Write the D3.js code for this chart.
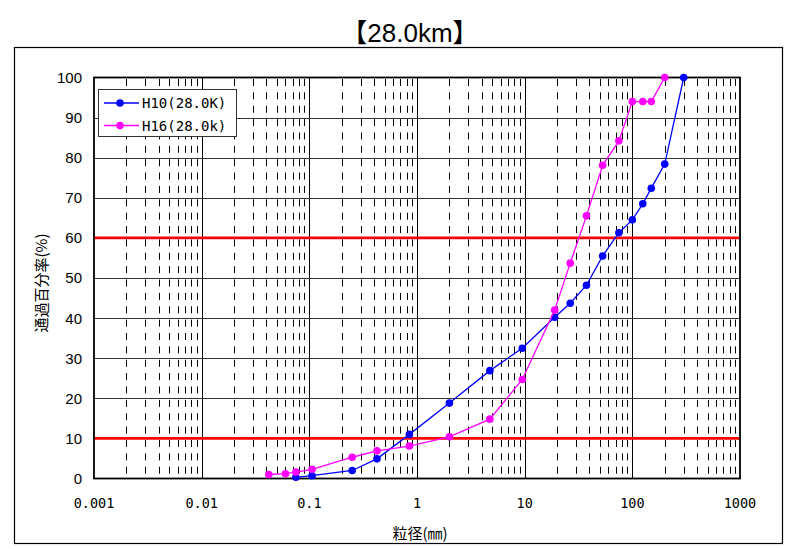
<!DOCTYPE html>
<html>
<head>
<meta charset="utf-8">
<script src="https://cdn.jsdelivr.net/npm/d3@7"></script>
<style>
  html, body { margin: 0; padding: 0; background: #fff; }
  svg { display: block; }
</style>
</head>
<body>
<svg id="chart" width="787" height="549"></svg>
<script>
// Grain size (mm) at each sieve / hydrometer reading
const sizesH10 = [0.075, 0.106, 0.25, 0.425, 0.85, 2, 4.75, 9.5, 19, 26.5, 37.5, 53, 75, 100, 125, 150, 200, 300];
const passH10  = [0.3, 0.7, 2.0, 4.9, 11.0, 18.8, 26.9, 32.5, 40.2, 43.7, 48.2, 55.5, 61.3, 64.5, 68.5, 72.4, 78.4, 100];

const sizesH16 = [0.042, 0.06, 0.075, 0.106, 0.25, 0.425, 0.85, 2, 4.75, 9.5, 19, 26.5, 37.5, 53, 75, 100, 125, 150, 200];
const passH16  = [1.0, 1.2, 1.6, 2.3, 5.3, 6.9, 8.1, 10.4, 14.8, 24.7, 42.0, 53.7, 65.5, 78.1, 84.2, 94.0, 94.0, 94.0, 100];

const seriesNames  = ["H10(28.0K)", "H16(28.0k)"];
const seriesColors = ["#0000ff", "#ff00ff"];

const xTickValues = [0.001, 0.01, 0.1, 1, 10, 100, 1000];
const xTickLabels = ["0.001", "0.01", "0.1", "1", "10", "100", "1000"];
const yTickValues = [0, 10, 20, 30, 40, 50, 60, 70, 80, 90, 100];
const redLines    = [10, 60];

const titleText = "【28.0km】";
const xTitle = "粒径(㎜)";
const yTitle = "通過百分率(%)";

const svg = d3.select("#chart");
const plot = { left: 94, right: 740, top: 77.5, bottom: 478.5 };

const x = d3.scaleLog().domain([0.001, 1000]).range([plot.left, plot.right]);
const y = d3.scaleLinear().domain([0, 100]).range([plot.bottom, plot.top]);

// outer frame
svg.append("rect")
  .attr("x", 14.5).attr("y", 47.5)
  .attr("width", 768).attr("height", 496)
  .attr("fill", "#fff").attr("stroke", "#000").attr("stroke-width", 1.2);

// title
svg.append("text")
  .attr("x", 410).attr("y", 42)
  .attr("text-anchor", "middle")
  .attr("font-family", "'Liberation Sans', Arial, 'Noto Sans CJK JP', sans-serif")
  .attr("font-size", 26)
  .attr("fill", "#000")
  .text(titleText);

const grid = svg.append("g");

// minor verticals (2..9 in each decade), dashed
const minor = [];
for (let e = -3; e < 3; e++) {
  for (let m = 2; m <= 9; m++) minor.push(m * Math.pow(10, e));
}
grid.selectAll("line.minor").data(minor).enter().append("line")
  .attr("class", "minor")
  .attr("x1", d => Math.round(x(d)) + 0.5).attr("x2", d => Math.round(x(d)) + 0.5)
  .attr("y1", plot.top).attr("y2", plot.bottom)
  .attr("stroke", "#000").attr("stroke-width", 1)
  .attr("stroke-dasharray", "7 6.37")
  .attr("stroke-dashoffset", -1.5);

// decade verticals
grid.selectAll("line.major").data(xTickValues.slice(1, -1)).enter().append("line")
  .attr("x1", d => Math.round(x(d)) + 0.5).attr("x2", d => Math.round(x(d)) + 0.5)
  .attr("y1", plot.top).attr("y2", plot.bottom)
  .attr("stroke", "#000").attr("stroke-width", 1);

// horizontal grid
grid.selectAll("line.h").data(yTickValues.slice(1, -1)).enter().append("line")
  .attr("x1", plot.left).attr("x2", plot.right)
  .attr("y1", d => Math.round(y(d)) + 0.5).attr("y2", d => Math.round(y(d)) + 0.5)
  .attr("stroke", "#333").attr("stroke-width", 1);

// red reference lines
grid.selectAll("line.red").data(redLines).enter().append("line")
  .attr("x1", plot.left).attr("x2", plot.right)
  .attr("y1", d => y(d)).attr("y2", d => y(d))
  .attr("stroke", "#ff0000").attr("stroke-width", 2.6);

// plot border
svg.append("rect")
  .attr("x", plot.left).attr("y", plot.top)
  .attr("width", plot.right - plot.left).attr("height", plot.bottom - plot.top)
  .attr("fill", "none").attr("stroke", "#000").attr("stroke-width", 1.8);

// series
const series = [
  { name: seriesNames[0], color: seriesColors[0], pts: sizesH10.map((s, i) => [s, passH10[i]]) },
  { name: seriesNames[1], color: seriesColors[1], pts: sizesH16.map((s, i) => [s, passH16[i]]) }
];
const line = d3.line().x(d => x(d[0])).y(d => y(d[1]));

series.forEach(s => {
  const g = svg.append("g");
  g.append("path").attr("d", line(s.pts))
    .attr("fill", "none").attr("stroke", s.color).attr("stroke-width", 1.3);
  g.selectAll("circle").data(s.pts).enter().append("circle")
    .attr("cx", d => x(d[0])).attr("cy", d => y(d[1]))
    .attr("r", 3.8).attr("fill", s.color);
});

// y tick labels
svg.append("g").selectAll("text").data(yTickValues).enter().append("text")
  .attr("x", 82).attr("y", d => y(d))
  .attr("dy", "0.36em")
  .attr("text-anchor", "end")
  .attr("font-family", "'Liberation Sans', Arial, sans-serif")
  .attr("font-size", 15)
  .text(d => d);

// x tick labels
svg.append("g").selectAll("text").data(xTickValues).enter().append("text")
  .attr("x", d => x(d)).attr("y", 508)
  .attr("text-anchor", "middle")
  .attr("font-family", "'DejaVu Sans Mono', monospace")
  .attr("font-size", 13.5)
  .text((d, i) => xTickLabels[i]);

// axis titles
svg.append("text")
  .attr("x", 420).attr("y", 539)
  .attr("text-anchor", "middle")
  .attr("font-family", "'Noto Sans CJK JP', sans-serif")
  .attr("font-size", 15)
  .text(xTitle);

svg.append("text")
  .attr("transform", "translate(47,283) rotate(-90)")
  .attr("text-anchor", "middle")
  .attr("font-family", "'Noto Sans CJK JP', sans-serif")
  .attr("font-size", 15)
  .text(yTitle);

// legend
const legend = svg.append("g");
legend.append("rect")
  .attr("x", 98.5).attr("y", 89.5).attr("width", 138).attr("height", 47)
  .attr("fill", "#fff").attr("stroke", "#333").attr("stroke-width", 1);
series.forEach((s, i) => {
  const ly = 103 + i * 22.5;
  legend.append("line")
    .attr("x1", 104).attr("x2", 139).attr("y1", ly).attr("y2", ly)
    .attr("stroke", s.color).attr("stroke-width", 1.3);
  legend.append("circle").attr("cx", 120).attr("cy", ly).attr("r", 3.8).attr("fill", s.color);
  legend.append("text")
    .attr("x", 142).attr("y", ly).attr("dy", "0.36em")
    .attr("font-family", "'DejaVu Sans Mono', monospace")
    .attr("font-size", 14)
    .text(s.name);
});
</script>
</body>
</html>
